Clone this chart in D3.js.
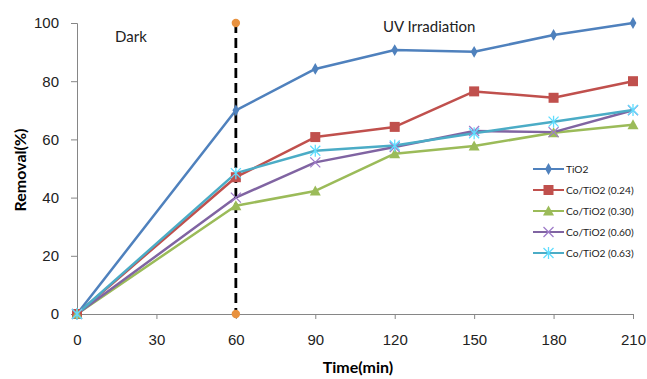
<!DOCTYPE html>
<html>
<head>
<meta charset="utf-8">
<script src="https://cdn.jsdelivr.net/npm/d3@7"></script>
<style>
  body { margin: 0; background: #fff; }
  svg { display: block; font-family: Lato, "Open Sans", sans-serif; }
</style>
</head>
<body>
<svg id="chart" width="647" height="379"></svg>
<script>
// Sampling times (min)
const times = [0, 60, 90, 120, 150, 180, 210];
const xTicks = [0, 30, 60, 90, 120, 150, 180, 210];
const yTicks = [0, 20, 40, 60, 80, 100];

// Removal (%) per catalyst
const seriesNames = ["TiO2", "Co/TiO2 (0.24)", "Co/TiO2 (0.30)", "Co/TiO2 (0.60)", "Co/TiO2 (0.63)"];
const tio2   = [0, 70.0, 84.2, 90.7, 90.1, 95.9, 100.0];
const co024  = [0, 47.0, 60.8, 64.3, 76.5, 74.3, 80.0];
const co030  = [0, 37.2, 42.3, 55.1, 57.7, 62.3, 65.0];
const co060  = [0, 40.0, 52.1, 57.4, 62.9, 62.5, 70.0];
const co063  = [0, 48.4, 56.1, 57.9, 62.1, 66.1, 70.1];
const seriesValues = [tio2, co024, co030, co060, co063];
const seriesColors = ["#4F81BD", "#C0504D", "#9BBB59", "#8064A2", "#4BACC6"];
const seriesMarkers = ["diamond", "square", "triangle", "cross", "star"];

// Dark / UV boundary
const lightOnTime = 60;

const svg = d3.select("#chart");

const x = d3.scaleLinear().domain([0, 210]).range([77, 633]);
const y = d3.scaleLinear().domain([0, 100]).range([314, 23]);

// Axes
const xAxis = svg.append("g")
  .attr("transform", `translate(0,${y(0)})`)
  .call(d3.axisBottom(x).tickValues(xTicks).tickSize(5).tickPadding(15));
const yAxis = svg.append("g")
  .attr("transform", `translate(${x(0)},0)`)
  .call(d3.axisLeft(y).tickValues(yTicks).tickSize(6).tickPadding(12));
[xAxis, yAxis].forEach(g => {
  g.select(".domain").attr("stroke", "#868686").attr("stroke-width", 1);
  g.selectAll(".tick line").attr("stroke", "#868686");
  g.selectAll(".tick text").attr("fill", "#222").style("font-size", "15px");
});

// Axis titles
svg.append("text")
  .attr("x", 358).attr("y", 373)
  .attr("text-anchor", "middle")
  .style("font-size", "16px").style("font-weight", "bold")
  .text("Time(min)");
svg.append("text")
  .attr("transform", `translate(26,170) rotate(-90)`)
  .attr("text-anchor", "middle")
  .style("font-size", "16px").style("font-weight", "bold")
  .text("Removal(%)");

// Phase annotations
svg.append("text").attr("x", 115).attr("y", 42)
  .style("font-size", "15px").attr("fill", "#222").text("Dark");
svg.append("text").attr("x", 383).attr("y", 32)
  .style("font-size", "15px").attr("fill", "#222").text("UV Irradiation");

// Marker shapes
function drawMarker(g, type, color, cx, cy) {
  if (type === "diamond") {
    g.append("path").attr("d", d3.symbol(d3.symbolDiamond, 40)())
      .attr("transform", `translate(${cx},${cy})`).attr("fill", color);
  } else if (type === "square") {
    g.append("rect").attr("x", cx - 5).attr("y", cy - 5).attr("width", 10).attr("height", 10)
      .attr("fill", color);
  } else if (type === "triangle") {
    g.append("path").attr("d", `M${cx},${cy - 5.5}L${cx + 5.5},${cy + 4.5}L${cx - 5.5},${cy + 4.5}Z`)
      .attr("fill", color);
  } else if (type === "cross") {
    g.append("path").attr("d", `M${cx - 5},${cy - 5}L${cx + 5},${cy + 5}M${cx - 5},${cy + 5}L${cx + 5},${cy - 5}`)
      .attr("stroke", d3.color(color).brighter(0.6)).attr("stroke-width", 1.3);
  } else if (type === "star") {
    g.append("path").attr("d", `M${cx - 5},${cy - 5}L${cx + 5},${cy + 5}M${cx - 5},${cy + 5}L${cx + 5},${cy - 5}M${cx},${cy - 6}L${cx},${cy + 6}`)
      .attr("stroke", d3.color(color).brighter(0.7)).attr("stroke-width", 1.3);
  }
}

const line = d3.line().x((d, i) => x(times[i])).y(d => y(d));

// Series lines
seriesValues.forEach((vals, s) => {
  svg.append("path").datum(vals)
    .attr("d", line)
    .attr("fill", "none")
    .attr("stroke", seriesColors[s])
    .attr("stroke-width", 2.5)
    .attr("stroke-linejoin", "round");
});

// Dark/UV boundary line with end dots
svg.append("line")
  .attr("x1", x(lightOnTime)).attr("x2", x(lightOnTime))
  .attr("y1", y(100)).attr("y2", y(0))
  .attr("stroke", "#000").attr("stroke-width", 2.8)
  .attr("stroke-dasharray", "10,5");
[0, 100].forEach(v => {
  svg.append("circle").attr("cx", x(lightOnTime)).attr("cy", y(v)).attr("r", 4.2)
    .attr("fill", "#E8913E");
});

// Series markers
seriesValues.forEach((vals, s) => {
  const g = svg.append("g");
  vals.forEach((v, i) => drawMarker(g, seriesMarkers[s], seriesColors[s], x(times[i]), y(v)));
});

// Legend
const legend = svg.append("g");
seriesNames.forEach((name, s) => {
  const ly = 169 + s * 21;
  legend.append("line").attr("x1", 533).attr("x2", 564).attr("y1", ly).attr("y2", ly)
    .attr("stroke", seriesColors[s]).attr("stroke-width", 2);
  drawMarker(legend, seriesMarkers[s], seriesColors[s], 548.5, ly);
  legend.append("text").attr("x", 566).attr("y", ly + 4)
    .style("font-size", "10.2px").attr("fill", "#222").text(name);
});
</script>
</body>
</html>
